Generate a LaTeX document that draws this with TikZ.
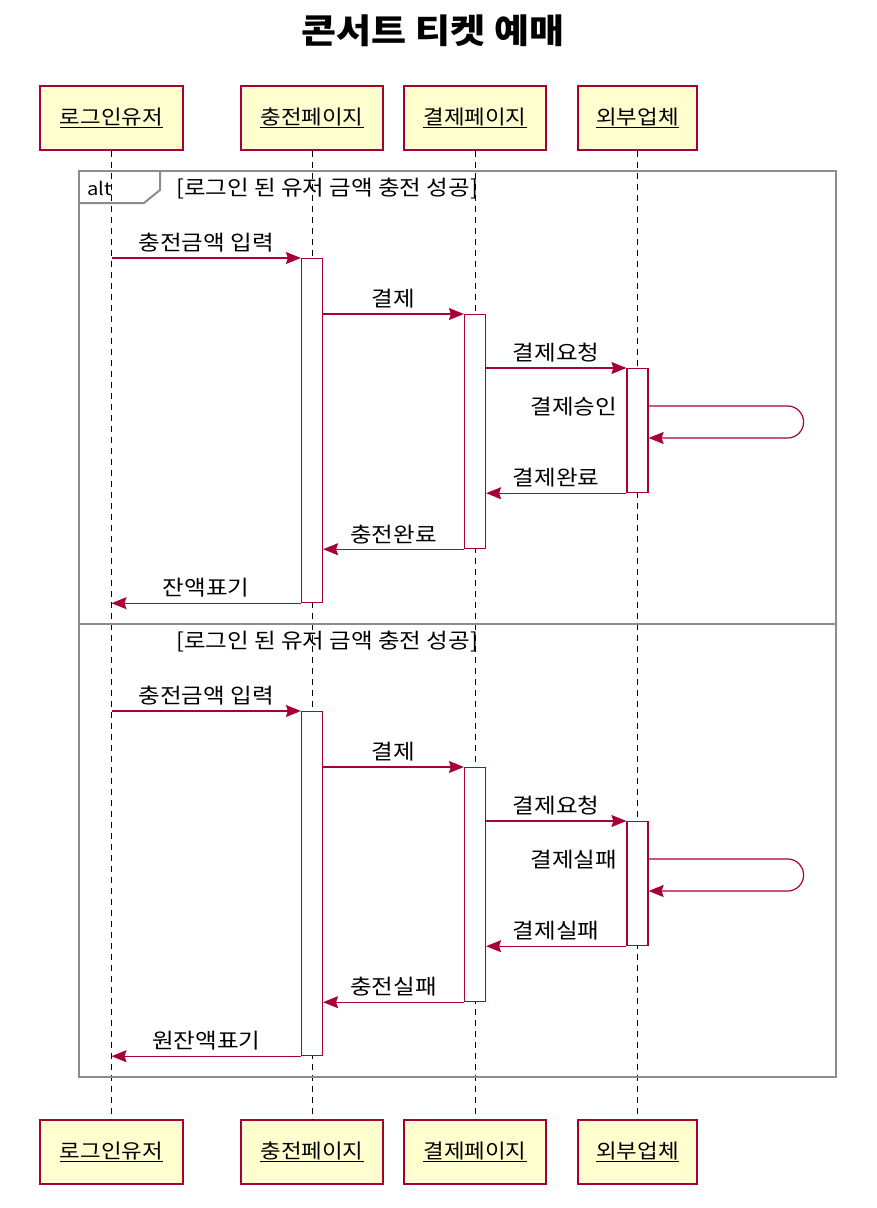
\documentclass[tikz,border=0pt]{standalone}
\usepackage{fontspec}
\setmainfont[FakeStretch=1.12]{Noto Sans CJK KR}
\usetikzlibrary{positioning,arrows.meta,calc}
\definecolor{SeqRed}{HTML}{A80036}
\definecolor{SeqFill}{HTML}{FEFECE}
\definecolor{FrameGray}{HTML}{8C8C8C}

\begin{document}
\begin{tikzpicture}[x=1pt,y=-1pt,
      part/.style={rectangle,draw=SeqRed,fill=SeqFill,line width=1.3pt,minimum height=64pt,inner sep=0pt,font=\fontsize{20}{24}\selectfont},
      act/.style={rectangle,draw=SeqRed,fill=white,line width=1.2pt,minimum width=21pt,inner sep=0pt,anchor=north},
      msg/.style={-{Stealth[length=15pt,width=12pt,inset=2pt]},draw=SeqRed,line width=1.2pt},
      lbl/.style={font=\fontsize{21}{25}\selectfont,inner sep=0pt},
      life/.style={draw=black,line width=1pt,dash pattern=on 6pt off 5pt},
      frame/.style={draw=FrameGray,line width=2.4pt},
      >=Latex
    ]
    \useasboundingbox (0,0) rectangle (876,1208);
    \node[font=\fontsize{34}{40}\selectfont\bfseries] (title) at (433,31) {콘서트 티켓 예매};
    % participants, top and bottom
    \node[part,minimum width=143pt] (t1) at (111.5,118) {\underline{로그인유저}};
    \node[part,minimum width=142pt] (t2) at (312,118) {\underline{충전페이지}};
    \node[part,minimum width=142pt] (t3) at (475,118) {\underline{결제페이지}};
    \node[part,minimum width=119pt] (t4) at (637.5,118) {\underline{외부업체}};
    \node[part,minimum width=143pt] (b1) at (111.5,1152) {\underline{로그인유저}};
    \node[part,minimum width=142pt] (b2) at (312,1152) {\underline{충전페이지}};
    \node[part,minimum width=142pt] (b3) at (475,1152) {\underline{결제페이지}};
    \node[part,minimum width=119pt] (b4) at (637.5,1152) {\underline{외부업체}};
    \foreach \i in {1,...,4} \draw[life] (t\i) -- (b\i);
    % alt frame
    \draw[frame] (79,171) rectangle (836,1077);
    \draw[draw=FrameGray,line width=1.2pt] (79,624) -- (836,624);
    \draw[draw=FrameGray,line width=2pt] (79,203) -- (144,203) -- (160,190) -- (160,171);
    \node[lbl,anchor=west,font=\fontsize{18}{22}\selectfont] (alt) at (87,188) {alt};
    \node[lbl,anchor=west] (g1) at (176,189) {[로그인 된 유저 금액 충전 성공]};
    \node[lbl,anchor=west] (g2) at (176,642) {[로그인 된 유저 금액 충전 성공]};
    % two branches
    \foreach \k/\dy/\sm/\rm/\cm/\um in {1/0/결제승인/결제완료/충전완료/잔액표기,2/453/결제실패/결제실패/충전실패/원잔액표기}{
      \node[act,minimum height=344pt] (c\k) at (t2 |- 0,258+\dy) {};
      \node[act,minimum height=234pt] (p\k) at (t3 |- 0,314+\dy) {};
      \node[act,minimum height=124pt] (e\k) at (t4 |- 0,368+\dy) {};
      \coordinate (s\k) at ($(e\k.north east)+(0,38)$);
      \coordinate (r\k) at ($(e\k.north east)+(0,70)$);
      \draw[msg] (t1 |- c\k.north) -- (c\k.north west) node[lbl,midway,above=5pt] {충전금액 입력};
      \draw[msg] (c\k.east |- p\k.north) -- (p\k.north west) node[lbl,midway,above=5pt] {결제};
      \draw[msg] (p\k.east |- e\k.north) -- (e\k.north west) node[lbl,midway,above=5pt] {결제요청};
      \draw[msg,rounded corners=16pt] (s\k) -- ++(155,0) |- (r\k);
      \node[lbl,anchor=east] at ($(e\k.north west)+(-9,39)$) {\sm};
      \draw[msg] (e\k.south west) -- (p\k.east |- e\k.south) node[lbl,midway,above=5pt] {\rm};
      \draw[msg] (p\k.south west) -- (c\k.east |- p\k.south) node[lbl,midway,above=5pt] {\cm};
      \draw[msg] (c\k.south west) -- (t1 |- c\k.south) node[lbl,midway,above=5pt] {\um};
    }
  \end{tikzpicture}
\end{document}
